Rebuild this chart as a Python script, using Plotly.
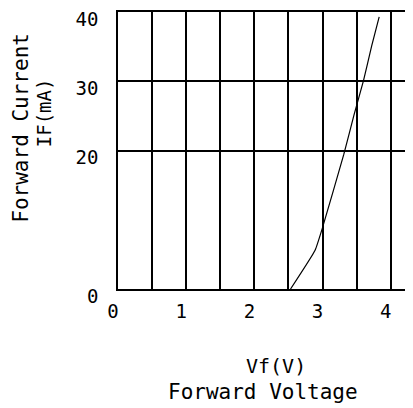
import plotly.graph_objects as go

# Forward voltage (V) vs forward current (mA)
vf = [2.53, 2.89, 3.00, 3.31, 3.46, 3.60, 3.72, 3.83]
if_ma = [0.0, 5.6, 8.9, 19.4, 25.1, 30.1, 35.1, 39.3]

x_tickvals = [0, 1, 2, 3, 4]
x_ticktext = ["0", "1", "2", "3", "4"]
y_tickvals = [0, 20, 30, 40]
y_ticktext = ["0", "20", "30", "40"]

FONT = "DejaVu Sans Mono"

fig = go.Figure()
fig.add_trace(go.Scatter(x=vf, y=if_ma, mode="lines",
                         line=dict(color="black", width=1.2, shape="spline", smoothing=0.4),
                         showlegend=False, hoverinfo="skip"))

fig.update_layout(
    width=405, height=400,
    margin=dict(l=110, r=0, t=1, b=119),
    paper_bgcolor="white", plot_bgcolor="white",
    font=dict(family=FONT, color="black", size=19),
    xaxis=dict(range=[0, 4.326], tickvals=x_tickvals, ticktext=x_ticktext,
               showgrid=True, gridcolor="black", gridwidth=1.5,
               minor=dict(dtick=0.5, showgrid=True, gridcolor="black", gridwidth=1.5),
               showline=True, linecolor="black", linewidth=1.5, mirror=True,
               zeroline=False, ticks="", ticklabelstandoff=4, ticklabelshift=-5,
               tickfont=dict(family=FONT, size=19)),
    yaxis=dict(range=[0, 40], tickvals=y_tickvals, ticktext=y_ticktext,
               showgrid=True, gridcolor="black", gridwidth=1.5,
               showline=True, linecolor="black", linewidth=1.5,
               zeroline=False, ticks="", ticklabelstandoff=14, ticklabelshift=7,
               ticklabeloverflow="allow",
               tickfont=dict(family=FONT, size=19)),
    annotations=[
        dict(text="Vf(V)", x=0.536, y=-0.277, xref="paper", yref="paper",
             showarrow=False, xanchor="center", yanchor="middle",
             font=dict(family=FONT, size=20)),
        dict(text="Forward Voltage", x=0.4915, y=-0.373, xref="paper", yref="paper",
             showarrow=False, xanchor="center", yanchor="middle",
             font=dict(family=FONT, size=21)),
        dict(text="Forward Current", x=-0.329, y=0.582, xref="paper", yref="paper",
             showarrow=False, xanchor="center", yanchor="middle", textangle=-90,
             font=dict(family=FONT, size=21)),
        dict(text="IF(mA)", x=-0.251, y=0.638, xref="paper", yref="paper",
             showarrow=False, xanchor="center", yanchor="middle", textangle=-90,
             font=dict(family=FONT, size=19)),
    ],
)

fig.write_html("out.html")
